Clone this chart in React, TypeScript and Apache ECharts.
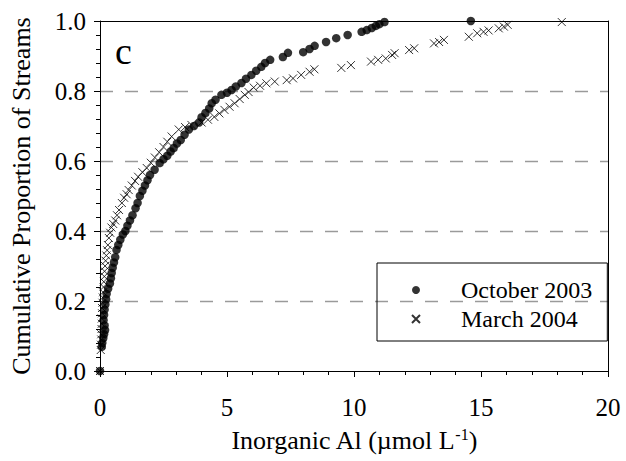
import React, { useEffect, useRef } from "react";
import * as echarts from "echarts";

const seriesNames = ["October 2003", "March 2004"];

const octX = [0, 0.07, 0.09, 0.13, 0.16, 0.2, 0.18, 0.14, 0.16, 0.18, 0.21, 0.24, 0.26, 0.32, 0.39, 0.43, 0.46, 0.5, 0.55, 0.6, 0.65, 0.72, 0.8, 0.9, 1.0, 1.08, 1.18, 1.28, 1.4, 1.48, 1.57, 1.67, 1.77, 1.87, 1.97, 2.15, 2.35, 2.5, 2.65, 2.78, 2.9, 3.03, 3.18, 3.33, 3.5, 3.7, 3.9, 4.0, 4.15, 4.3, 4.4, 4.55, 4.78, 5.0, 5.18, 5.35, 5.57, 5.75, 5.96, 6.15, 6.35, 6.5, 6.7, 7.2, 7.4, 8.0, 8.25, 8.45, 8.9, 9.3, 9.75, 10.3, 10.5, 10.7, 10.86, 11.0, 11.2, 14.6];
const octY = [0, 0.069, 0.08, 0.094, 0.105, 0.117, 0.13, 0.145, 0.16, 0.175, 0.19, 0.205, 0.22, 0.235, 0.25, 0.265, 0.28, 0.295, 0.31, 0.325, 0.346, 0.36, 0.375, 0.39, 0.4, 0.415, 0.43, 0.445, 0.465, 0.48, 0.5, 0.515, 0.53, 0.545, 0.56, 0.575, 0.594, 0.605, 0.615, 0.627, 0.637, 0.65, 0.66, 0.675, 0.69, 0.7, 0.71, 0.725, 0.737, 0.75, 0.765, 0.775, 0.789, 0.795, 0.803, 0.813, 0.823, 0.835, 0.846, 0.858, 0.869, 0.88, 0.889, 0.897, 0.909, 0.911, 0.92, 0.929, 0.94, 0.951, 0.96, 0.969, 0.974, 0.98, 0.986, 0.991, 0.997, 1.0];

const marX = [0, 0.03, 0.04, 0.05, 0.05, 0.06, 0.07, 0.07, 0.08, 0.08, 0.1, 0.11, 0.12, 0.14, 0.15, 0.17, 0.18, 0.2, 0.22, 0.25, 0.28, 0.31, 0.35, 0.4, 0.45, 0.52, 0.6, 0.67, 0.75, 0.86, 0.95, 1.05, 1.13, 1.25, 1.38, 1.5, 1.67, 1.84, 2.0, 2.16, 2.33, 2.5, 2.65, 2.82, 3.1, 3.35, 3.6, 4.0, 4.25, 4.5, 4.7, 4.9, 5.1, 5.3, 5.5, 5.7, 5.85, 6.05, 6.3, 6.55, 6.88, 7.35, 7.6, 7.92, 8.25, 8.44, 9.5, 9.88, 10.67, 10.95, 11.25, 11.5, 11.6, 12.17, 12.37, 13.15, 13.35, 13.54, 14.52, 14.85, 15.1, 15.3, 15.7, 15.9, 16.05, 18.18];
const marY = [0, 0.06, 0.075, 0.09, 0.105, 0.12, 0.135, 0.15, 0.165, 0.18, 0.195, 0.21, 0.225, 0.24, 0.255, 0.27, 0.285, 0.3, 0.315, 0.33, 0.345, 0.36, 0.38, 0.395, 0.41, 0.42, 0.43, 0.445, 0.46, 0.48, 0.495, 0.505, 0.517, 0.53, 0.543, 0.555, 0.568, 0.58, 0.595, 0.61, 0.625, 0.64, 0.655, 0.67, 0.69, 0.697, 0.703, 0.71, 0.718, 0.726, 0.736, 0.746, 0.755, 0.765, 0.777, 0.789, 0.797, 0.81, 0.815, 0.822, 0.827, 0.831, 0.836, 0.846, 0.855, 0.862, 0.866, 0.874, 0.884, 0.889, 0.893, 0.903, 0.908, 0.917, 0.922, 0.936, 0.94, 0.946, 0.955, 0.965, 0.969, 0.973, 0.979, 0.984, 0.989, 0.997];

const xTicks = { min: 0, max: 20, interval: 5 };
const yTicks = { min: 0, max: 1, interval: 0.2 };

const FONT = "'Liberation Serif', 'Times New Roman', serif";

export default function App() {
  const ref = useRef<HTMLDivElement>(null);
  useEffect(() => {
    if (!ref.current) return;
    const chart = echarts.init(ref.current, null, { renderer: "svg" });
    const axisCommon = {
      axisLine: { show: true, onZero: false, lineStyle: { color: "#000", width: 1 } },
      axisTick: { show: true, inside: false, length: 6, lineStyle: { color: "#000" } },
      minorTick: { show: true, splitNumber: 5, length: 4, lineStyle: { color: "#000" } },
      axisLabel: { color: "#000", fontFamily: FONT, fontSize: 25 },
      nameTextStyle: { color: "#000", fontFamily: FONT, fontSize: 26 },
    };
    const frameLine = { show: true, onZero: false, lineStyle: { color: "#000", width: 1 } };
    chart.setOption({
      animation: false,
      backgroundColor: "#fff",
      grid: { left: 98, right: 18, top: 21, bottom: 90, containLabel: false },
      legend: {
        data: seriesNames,
        left: 377,
        top: 263,
        orient: "vertical",
        borderColor: "#000",
        borderWidth: 1,
        borderRadius: 0,
        padding: [15, 15, 10, 34],
        itemWidth: 8,
        itemHeight: 8,
        itemGap: 5,
        textStyle: { color: "#000", fontFamily: FONT, fontSize: 24, padding: [0, 0, 0, 36] },
      },
      xAxis: [
        {
          type: "value",
          ...xTicks,
          ...axisCommon,
          z: 10,
          splitLine: { show: false },
          axisLabel: { ...axisCommon.axisLabel, margin: 24 },
          name: "Inorganic Al (µmol L{sup|-1})",
          nameLocation: "middle",
          nameGap: 55,
          nameTextStyle: {
            ...axisCommon.nameTextStyle,
            rich: {
              sup: { fontFamily: FONT, fontSize: 16, color: "#000", verticalAlign: "top", padding: [0, 0, 12, 0] },
            },
          },
        },
        {
          type: "value",
          ...xTicks,
          position: "top",
          z: 10,
          axisLine: frameLine,
          axisTick: { show: false },
          axisLabel: { show: false },
          splitLine: { show: false },
        },
      ],
      yAxis: [
        {
          type: "value",
          ...yTicks,
          ...axisCommon,
          z: 1,
          axisLabel: { ...axisCommon.axisLabel, margin: 14, formatter: (v: number) => v.toFixed(1) },
          splitLine: {
            show: true,
            showMinLine: false,
            showMaxLine: false,
            lineStyle: { color: "#9a9a9a", width: 1.3, type: [13, 12] },
          },
          name: "Cumulative Proportion of Streams",
          nameLocation: "middle",
          nameGap: 66,
        },
        {
          type: "value",
          ...yTicks,
          position: "right",
          z: 10,
          axisLine: frameLine,
          axisTick: { show: false },
          axisLabel: { show: false },
          splitLine: { show: false },
        },
      ],
      graphic: [
        {
          type: "text",
          left: 115,
          top: 32,
          style: { text: "c", fontFamily: FONT, fontSize: 38, fill: "#000" },
        },
      ],
      series: [
        {
          name: seriesNames[0],
          type: "scatter",
          symbol: "circle",
          symbolSize: 8.5,
          itemStyle: { color: "#000" },
          data: octX.map((x, i) => [x, octY[i]]),
          z: 3,
        },
        {
          name: seriesNames[1],
          type: "scatter",
          symbol: "path://M0,0L10,10M10,0L0,10",
          symbolSize: 8,
          itemStyle: { color: "rgba(0,0,0,0)", borderColor: "#000", borderWidth: 1 },
          data: marX.map((x, i) => [x, marY[i]]),
          z: 4,
        },
      ],
    });
    return () => chart.dispose();
  }, []);
  return <div ref={ref} style={{ position: "absolute", left: 0, top: 0, width: 626, height: 461 }} />;
}
